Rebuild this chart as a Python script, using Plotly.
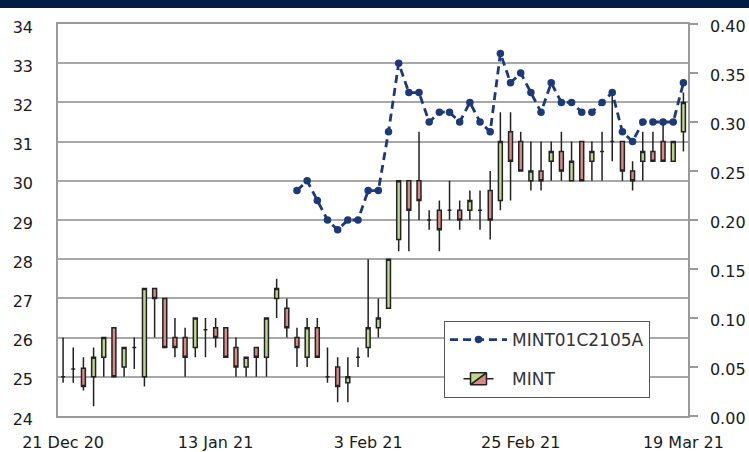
import pandas as pd
import plotly.graph_objects as go

# ---- categories: SGX trading days 21 Dec 2020 - 19 Mar 2021
holidays = ["2020-12-25", "2021-01-01", "2021-02-12"]
dates = [d.strftime("%Y-%m-%d") for d in pd.bdate_range("2020-12-21", "2021-03-19")
         if d.strftime("%Y-%m-%d") not in holidays]

# ---- MINT (left axis) OHLC
mint_open = [25.0, 25.2, 25.22, 25.0, 25.5, 26.25, 25.25, 25.75, 25.0, 27.25,
             27.0, 26.0, 26.0, 25.75, 26.2, 26.25, 26.25, 25.75, 25.25, 25.75,
             25.5, 27.0, 26.75, 26.0, 25.5, 26.25, 25.0, 25.25, 24.85, 25.5,
             25.75, 26.25, 26.75, 28.5, 30.0, 30.0, 29.0, 29.25, 29.25, 29.25,
             29.25, 29.25, 29.75, 29.5, 31.25, 31.0, 30.0, 30.25, 30.5, 30.75,
             30.0, 31.0, 30.5, 30.75, 31.0, 31.0, 30.25, 30.5, 30.75, 31.0,
             30.5, 31.25]
mint_high = [26.0, 25.75, 25.5, 25.75, 26.0, 26.25, 25.75, 26.0, 27.25, 27.25,
             27.0, 26.5, 26.25, 26.5, 26.5, 26.5, 26.25, 26.0, 25.5, 25.75,
             26.5, 27.5, 27.0, 26.25, 26.5, 26.5, 25.75, 25.5, 25.5, 25.75,
             28.0, 27.0, 28.0, 30.0, 30.0, 31.25, 29.25, 29.5, 30.0, 29.5,
             29.75, 29.75, 30.25, 31.75, 31.75, 31.25, 31.0, 31.0, 31.0, 31.25,
             31.0, 31.0, 31.0, 31.25, 32.2, 31.0, 30.5, 31.25, 31.25, 31.5,
             31.0, 32.25]
mint_low = [24.85, 24.85, 24.65, 24.25, 25.0, 25.0, 25.0, 25.2, 24.75, 26.0,
            25.75, 25.5, 25.0, 25.5, 25.5, 25.75, 25.5, 25.0, 25.0, 25.0,
            25.0, 26.5, 26.0, 25.25, 25.25, 25.5, 24.85, 24.35, 24.35, 25.25,
            25.5, 26.0, 26.75, 28.2, 28.2, 29.0, 28.75, 28.2, 29.0, 28.75,
            29.0, 28.75, 28.5, 29.25, 29.5, 30.25, 29.75, 29.75, 30.0, 30.0,
            30.0, 30.0, 30.0, 30.0, 30.5, 30.0, 29.75, 30.0, 30.5, 30.5,
            30.5, 30.75]
mint_close = [25.0, 25.2, 24.75, 25.5, 26.0, 25.0, 25.75, 25.75, 27.25, 27.0,
              25.75, 25.75, 25.5, 26.5, 26.2, 26.0, 25.5, 25.25, 25.5, 25.5,
              26.5, 27.25, 26.25, 25.75, 26.25, 25.5, 25.0, 24.75, 25.0, 25.5,
              26.25, 26.5, 28.0, 30.0, 29.25, 29.5, 29.0, 28.75, 29.25, 29.0,
              29.5, 29.25, 29.0, 31.0, 30.5, 30.25, 30.25, 30.0, 30.75, 30.25,
              30.5, 30.0, 30.75, 30.75, 31.0, 30.25, 30.0, 30.75, 30.5, 30.5,
              31.0, 32.0]

# ---- MINT01C2105A (right axis), starts 25 Jan 2021
warrant_start = "2021-01-25"
warrant = [0.23, 0.24, 0.22, 0.20, 0.19, 0.20, 0.20, 0.23, 0.23, 0.29,
           0.36, 0.33, 0.33, 0.30, 0.31, 0.31, 0.30, 0.32, 0.30, 0.29,
           0.37, 0.34, 0.35, 0.33, 0.31, 0.34, 0.32, 0.32, 0.31, 0.31,
           0.32, 0.33, 0.29, 0.28, 0.30, 0.30, 0.30, 0.30, 0.34]
warrant_dates = dates[dates.index(warrant_start):]

tick_vals = ["2020-12-21", "2021-01-13", "2021-02-03", "2021-02-25", "2021-03-19"]
tick_text = ["21 Dec 20", "13 Jan 21", "3 Feb 21", "25 Feb 21", "19 Mar 21"]

GREEN = "#bed68e"
RED = "#d98a86"
NAVY = "#1c3a78"
GRID = "#a8a8a8"
TICKFONT = dict(family="DejaVu Sans", size=16, color="#1a1a1a")

fig = go.Figure()
fig.add_trace(go.Candlestick(
    x=dates, open=mint_open, high=mint_high, low=mint_low, close=mint_close,
    name="MINT", whiskerwidth=0,
    increasing=dict(fillcolor=GREEN, line=dict(color="#222222", width=1.5)),
    decreasing=dict(fillcolor=RED, line=dict(color="#222222", width=1.5)),
    legendrank=2, legendgroup="b",
))
fig.add_trace(go.Scatter(
    x=warrant_dates, y=warrant, yaxis="y2", mode="lines+markers",
    name="MINT01C2105A",
    line=dict(color=NAVY, width=2.8, dash="8px,5px"),
    marker=dict(size=7.5, color=NAVY),
    legendrank=1, legendgroup="a",
))

fig.add_shape(type="rect", xref="paper", yref="paper", x0=-1, x1=2,
              y0=(416 - 8) / 392, y1=2, fillcolor="#001d45", line_width=0,
              layer="above")

fig.update_layout(
    width=749, height=452,
    margin=dict(l=58, r=61, t=24, b=36),
    plot_bgcolor="white", paper_bgcolor="white",
    boxgap=0.45,
    xaxis=dict(type="category", range=[-0.5, 61.45], rangeslider=dict(visible=False),
               tickvals=tick_vals, ticktext=tick_text, ticks="", showgrid=False,
               showline=True, mirror=True, linecolor="#9a9a9a", linewidth=1.5,
               tickfont=TICKFONT, ticklabelstandoff=11, automargin=False,
               fixedrange=True),
    yaxis=dict(range=[24, 34], dtick=1, tick0=24, showgrid=True, gridcolor=GRID,
               gridwidth=1.5, showline=True, linecolor="#9a9a9a", linewidth=1.5,
               ticks="", tickfont=TICKFONT, ticklabelstandoff=20, ticklabelshift=3,
               zeroline=False, automargin=False),
    yaxis2=dict(range=[0, 0.4], dtick=0.05, tick0=0, tickformat=".2f",
                overlaying="y", side="right", showgrid=False, showline=True,
                linecolor="#9a9a9a", linewidth=1.5, ticks="outside", ticklen=8,
                tickcolor="#9a9a9a", tickwidth=1.5, tickfont=TICKFONT,
                ticklabelstandoff=9, ticklabelshift=2, zeroline=False,
                automargin=False),
    legend=dict(x=(444 - 58) / 630, y=(416 - 321) / 392, xanchor="left", yanchor="top",
                bgcolor="white", bordercolor="#555555", borderwidth=1,
                font=dict(family="DejaVu Sans", size=17, color="#333333"),
                traceorder="grouped", tracegroupgap=14, itemwidth=57,
                entrywidth=250),
    showlegend=True,
)

fig.write_html("out.html", post_script="document.body.style.margin='0';",
               config={"displayModeBar": False})
